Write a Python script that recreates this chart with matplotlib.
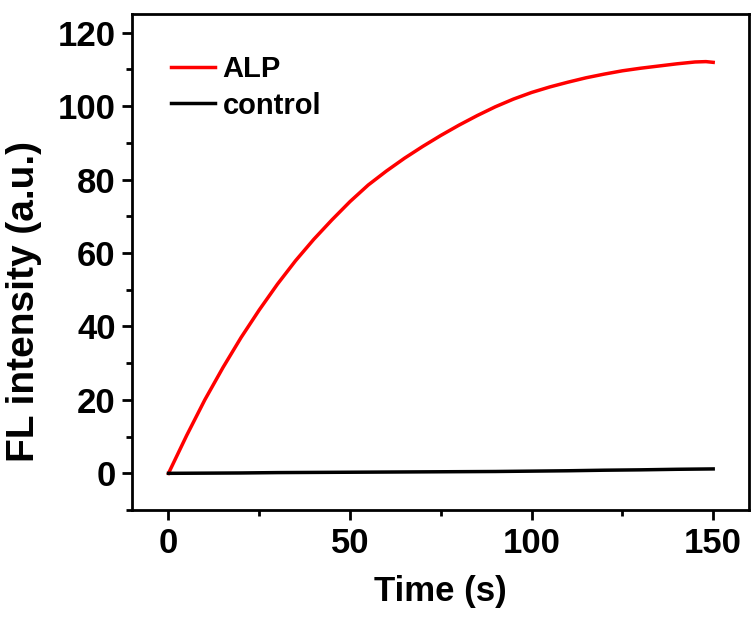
import matplotlib.pyplot as plt
from matplotlib.ticker import MultipleLocator

plt.rcParams['font.family'] = ['Liberation Sans', 'DejaVu Sans']
plt.rcParams['font.weight'] = 'bold'

# ALP curve
t_alp = [0, 5, 10, 15, 20, 25, 30, 35, 40, 45, 50, 55, 60, 65, 70, 75, 80, 85, 90, 95,
         100, 105, 110, 115, 120, 125, 130, 135, 140, 145, 148, 150]
fl_alp = [0, 10.3, 20.0, 28.8, 37.0, 44.5, 51.5, 57.9, 63.7, 69.0, 74.0, 78.5, 82.3, 85.8,
          89.0, 92.0, 94.8, 97.4, 99.8, 101.9, 103.7, 105.2, 106.5, 107.7, 108.7, 109.6,
          110.3, 110.9, 111.5, 112.0, 112.1, 111.9]

# control curve
t_ctrl = [0, 10, 20, 30, 40, 50, 60, 70, 80, 90, 100, 110, 120, 130, 140, 150]
fl_ctrl = [0, 0.05, 0.1, 0.2, 0.25, 0.3, 0.35, 0.4, 0.45, 0.5, 0.6, 0.7, 0.85, 0.95, 1.1, 1.2]

fig = plt.figure(figsize=(7.51, 6.19), dpi=100)
ax = fig.add_axes([0.176, 0.176, 0.822, 0.801])

ax.plot(t_alp, fl_alp, color='#ff0000', linewidth=2.5, label='ALP')
ax.plot(t_ctrl, fl_ctrl, color='black', linewidth=2.5, label='control')

ax.set_xlim(-10, 160)
ax.set_ylim(-10, 125)
ax.xaxis.set_major_locator(MultipleLocator(50))
ax.xaxis.set_minor_locator(MultipleLocator(25))
ax.yaxis.set_major_locator(MultipleLocator(20))
ax.yaxis.set_minor_locator(MultipleLocator(10))

for s in ax.spines.values():
    s.set_linewidth(2)
ax.tick_params(which='major', direction='out', length=7, width=2, labelsize=25, pad=5)
ax.tick_params(which='minor', direction='out', length=4, width=2)
ax.tick_params(top=False, right=False)

ax.set_xlabel('Time (s)', fontsize=25, fontweight='bold', labelpad=11)
ax.set_ylabel('FL intensity (a.u.)', fontsize=28, fontweight='bold')
ax.yaxis.set_label_coords(-0.146, 0.42)

ax.legend(loc='upper left', bbox_to_anchor=(0.021, 0.971), frameon=False, fontsize=21,
          handlelength=1.5, handletextpad=0.25, labelspacing=0.3)

fig.savefig('out.png', dpi=100)
